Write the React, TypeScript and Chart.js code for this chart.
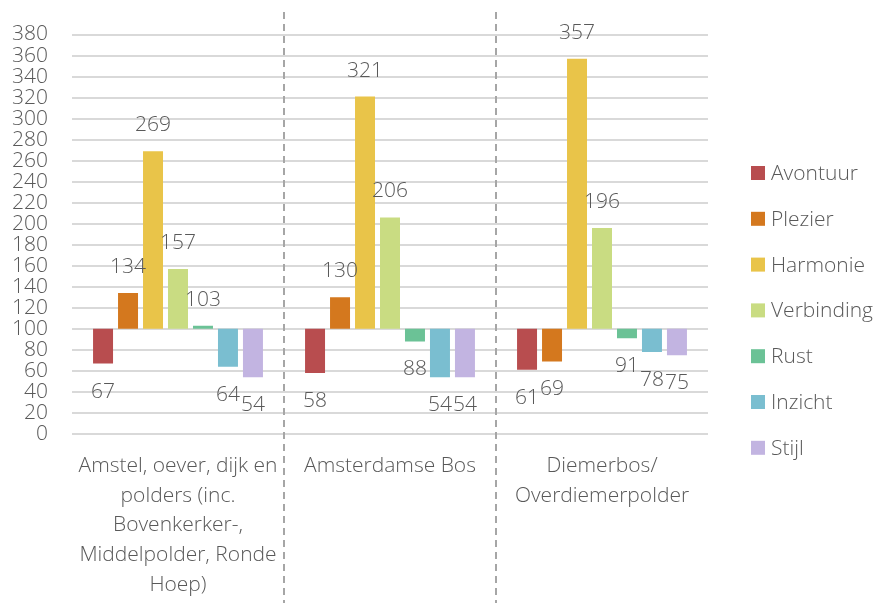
import React, { useEffect, useRef } from "react";
import { Chart, registerables } from "chart.js";

Chart.register(...registerables);

const categories: string[][] = [
  ["Amstel, oever, dijk en", "polders (inc.", "Bovenkerker-,", "Middelpolder, Ronde", "Hoep)"],
  ["Amsterdamse Bos"],
  ["Diemerbos/", "Overdiemerpolder"],
];

const seriesNames = ["Avontuur", "Plezier", "Harmonie", "Verbinding", "Rust", "Inzicht", "Stijl"];
const avontuur = [67, 58, 61];
const plezier = [134, 130, 69];
const harmonie = [269, 321, 357];
const verbinding = [157, 206, 196];
const rust = [103, 88, 91];
const inzicht = [64, 54, 78];
const stijl = [54, 54, 75];
const seriesValues = [avontuur, plezier, harmonie, verbinding, rust, inzicht, stijl];
const seriesColors = ["#b84d4f", "#d4781e", "#e9c449", "#c9dc82", "#6bc296", "#7abed0", "#c2b4e1"];

const baseline = 100;
const yMin = 0;
const yMax = 380;
const yStep = 20;

const FONT = "'Open Sans', Lato, sans-serif";
const FSIZE = 21;
const TEXT = "#595959";

const valueLabels = {
  id: "valueLabels",
  afterDatasetsDraw(chart: any) {
    const { ctx } = chart;
    const yScale = chart.scales.y;
    ctx.save();
    ctx.font = `300 ${FSIZE}px ${FONT}`;
    ctx.fillStyle = TEXT;
    ctx.textAlign = "center";
    ctx.textBaseline = "middle";
    chart.data.datasets.forEach((ds: any, di: number) => {
      const meta = chart.getDatasetMeta(di);
      meta.data.forEach((el: any, i: number) => {
        const v = seriesValues[di][i];
        const py = yScale.getPixelForValue(v);
        const ty = v >= baseline ? py - 26 : py + 28;
        ctx.fillText(String(v), el.x, ty);
      });
    });
    ctx.restore();
  },
};

const separators = {
  id: "separators",
  beforeDatasetsDraw(chart: any) {
    const { ctx } = chart;
    const xs = chart.scales.x;
    ctx.save();
    ctx.strokeStyle = "#a6a6a6";
    ctx.lineWidth = 2;
    ctx.setLineDash([7, 5]);
    for (let i = 0; i < categories.length - 1; i++) {
      const x = (xs.getPixelForValue(i) + xs.getPixelForValue(i + 1)) / 2;
      ctx.beginPath();
      ctx.moveTo(x, 12);
      ctx.lineTo(x, chart.height);
      ctx.stroke();
    }
    ctx.restore();
  },
};

const sideLegend = {
  id: "sideLegend",
  afterDraw(chart: any) {
    const { ctx, chartArea } = chart;
    const x0 = chartArea.right + 43;
    const yTop = 173;
    const gap = 45.8;
    ctx.save();
    ctx.font = `300 ${FSIZE}px ${FONT}`;
    ctx.textAlign = "left";
    ctx.textBaseline = "middle";
    seriesNames.forEach((name, i) => {
      const cy = yTop + i * gap;
      ctx.fillStyle = seriesColors[i];
      ctx.fillRect(x0, cy - 7, 14, 14);
      ctx.fillStyle = TEXT;
      ctx.fillText(name, x0 + 20, cy + 1);
    });
    ctx.restore();
  },
};

export default function App() {
  const ref = useRef<HTMLCanvasElement | null>(null);
  useEffect(() => {
    if (!ref.current) return;
    const chart = new Chart(ref.current, {
      type: "bar",
      data: {
        labels: categories,
        datasets: seriesNames.map((name, i) => ({
          label: name,
          data: seriesValues[i].map((v) => [baseline, v]),
          backgroundColor: seriesColors[i],
          borderWidth: 0,
          barPercentage: 0.8,
          categoryPercentage: 0.825,
        })) as any,
      },
      options: {
        animation: false,
        responsive: true,
        maintainAspectRatio: false,
        layout: { padding: { top: 33, right: 171, left: 0, bottom: 0 } },
        plugins: {
          legend: { display: false },
          tooltip: { enabled: false },
          title: { display: false },
        },
        scales: {
          x: {
            grid: { display: false, drawTicks: false },
            border: { display: false },
            ticks: {
              color: TEXT,
              font: { family: FONT, size: FSIZE, weight: 300 as any, lineHeight: 1.414 },
              padding: 17,
              maxRotation: 0,
              autoSkip: false,
            },
            afterFit: (scale: any) => {
              scale.height = 169;
            },
          },
          y: {
            min: yMin,
            max: yMax,
            grid: { color: "#d9d9d9", lineWidth: 2, drawTicks: false },
            border: { display: false },
            ticks: {
              stepSize: yStep,
              autoSkip: false,
              color: TEXT,
              font: { family: FONT, size: FSIZE, weight: 300 as any, lineHeight: 1 },
              padding: 24,
            },
            afterFit: (scale: any) => {
              scale.width = 72;
            },
          },
        },
      },
      plugins: [separators, valueLabels, sideLegend],
    });
    return () => chart.destroy();
  }, []);
  return (
    <div style={{ position: "fixed", left: 0, top: 0, width: 879, height: 603, background: "#ffffff" }}>
      <canvas ref={ref} />
    </div>
  );
}
